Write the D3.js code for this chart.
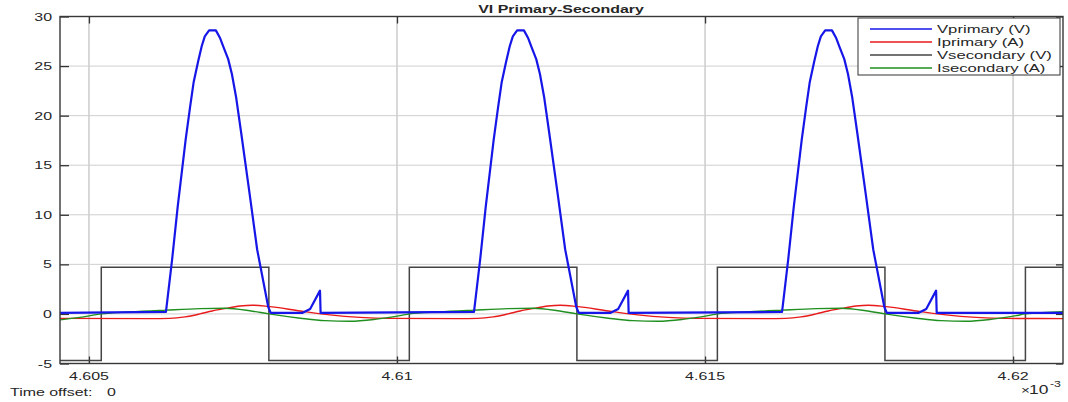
<!DOCTYPE html>
<html>
<head>
<meta charset="utf-8">
<script src="https://cdn.jsdelivr.net/npm/d3@7"></script>
<style>
  body { margin: 0; background: #fff; }
  text { font-family: "Liberation Sans", Arial, sans-serif; fill: #262626; }
</style>
</head>
<body>
<svg id="chart" width="1068" height="402"></svg>
<script>
// time values are in ms (axis shows x 10^-3 s)
var seriesNames = ["Vprimary (V)", "Iprimary (A)", "Vsecondary (V)", "Isecondary (A)"];
var seriesColors = ["#1616e8", "#e81a1a", "#444444", "#1f8f1f"];

var xTicks = [4.605, 4.61, 4.615, 4.62];
var xTickLabels = ["4.605", "4.61", "4.615", "4.62"];
var yTicks = [-5, 0, 5, 10, 15, 20, 25, 30];
var yTickLabels = ["-5", "0", "5", "10", "15", "20", "25", "30"];

var vPrimaryT = [4.60453,
  4.60625, 4.60635, 4.60644, 4.60657, 4.60664, 4.60670, 4.60677, 4.60683, 4.60688, 4.60695, 4.60706, 4.60713, 4.60719, 4.60726, 4.60732, 4.60739, 4.60747, 4.60761, 4.60773, 4.60791, 4.60795, 4.60846, 4.60859, 4.60875, 4.60876,
  4.61125, 4.61135, 4.61144, 4.61157, 4.61164, 4.61170, 4.61177, 4.61183, 4.61188, 4.61195, 4.61206, 4.61213, 4.61219, 4.61226, 4.61232, 4.61239, 4.61247, 4.61261, 4.61273, 4.61291, 4.61295, 4.61346, 4.61359, 4.61375, 4.61376,
  4.61625, 4.61635, 4.61644, 4.61657, 4.61664, 4.61670, 4.61677, 4.61683, 4.61688, 4.61695, 4.61706, 4.61713, 4.61719, 4.61726, 4.61732, 4.61739, 4.61747, 4.61761, 4.61773, 4.61791, 4.61795, 4.61846, 4.61859, 4.61875, 4.61876,
  4.62081];
var vPrimaryV = [0.1,
  0.2, 5.5, 10.8, 17.6, 20.8, 23.4, 25.4, 27.0, 28.0, 28.6, 28.6, 27.8, 26.8, 25.7, 24.2, 21.8, 18.3, 12.0, 6.5, 0.7, 0.1, 0.1, 0.5, 2.35, 0.1,
  0.2, 5.5, 10.8, 17.6, 20.8, 23.4, 25.4, 27.0, 28.0, 28.6, 28.6, 27.8, 26.8, 25.7, 24.2, 21.8, 18.3, 12.0, 6.5, 0.7, 0.1, 0.1, 0.5, 2.35, 0.1,
  0.2, 5.5, 10.8, 17.6, 20.8, 23.4, 25.4, 27.0, 28.0, 28.6, 28.6, 27.8, 26.8, 25.7, 24.2, 21.8, 18.3, 12.0, 6.5, 0.7, 0.1, 0.1, 0.5, 2.35, 0.1,
  0.1];

var iPrimaryT = [4.60453, 4.60599, 4.60631, 4.60656, 4.60680, 4.60700, 4.60721, 4.60745, 4.60765, 4.60791, 4.60843, 4.60891, 4.60940, 4.60989,
                 4.61099, 4.61131, 4.61156, 4.61180, 4.61200, 4.61221, 4.61245, 4.61265, 4.61291, 4.61343, 4.61391, 4.61440, 4.61489,
                 4.61599, 4.61631, 4.61656, 4.61680, 4.61700, 4.61721, 4.61745, 4.61765, 4.61791, 4.61843, 4.61891, 4.61940, 4.61989,
                 4.62081];
var iPrimaryV = [-0.45, -0.47, -0.45, -0.3, 0.0, 0.3, 0.55, 0.8, 0.88, 0.76, 0.3, -0.1, -0.35, -0.45,
                 -0.47, -0.45, -0.3, 0.0, 0.3, 0.55, 0.8, 0.88, 0.76, 0.3, -0.1, -0.35, -0.45,
                 -0.47, -0.45, -0.3, 0.0, 0.3, 0.55, 0.8, 0.88, 0.76, 0.3, -0.1, -0.35, -0.45,
                 -0.47];

var vSecondaryT = [4.60453, 4.60520, 4.60792, 4.61020, 4.61292, 4.61520, 4.61792, 4.62020, 4.62081];
var vSecondaryV = [-4.7, 4.7, -4.7, 4.7, -4.7, 4.7, -4.7, 4.7, 4.7];

var iSecondaryT = [4.60453, 4.60485, 4.60520, 4.60567, 4.60625, 4.60680, 4.60721, 4.60761, 4.60792, 4.60843, 4.60883, 4.60924, 4.60964, 4.61005,
                   4.61020, 4.61067, 4.61125, 4.61180, 4.61221, 4.61261, 4.61292, 4.61343, 4.61383, 4.61424, 4.61464, 4.61505,
                   4.61520, 4.61567, 4.61625, 4.61680, 4.61721, 4.61761, 4.61792, 4.61843, 4.61883, 4.61924, 4.61964, 4.62005,
                   4.62020, 4.62081];
var iSecondaryV = [-0.6, -0.35, 0.0, 0.2, 0.38, 0.53, 0.57, 0.32, 0.0, -0.43, -0.68, -0.74, -0.55, -0.17,
                   0.0, 0.2, 0.38, 0.53, 0.57, 0.32, 0.0, -0.43, -0.68, -0.74, -0.55, -0.17,
                   0.0, 0.2, 0.38, 0.53, 0.57, 0.32, 0.0, -0.43, -0.68, -0.74, -0.55, -0.17,
                   0.0, 0.22];

var SX = 1.45; // text in the reference is stretched horizontally

var svg = d3.select('#chart');
var mL = 60, mR = 1063, mT = 16.5, mB = 363.5;

var x = d3.scaleLinear().domain([4.60453, 4.62081]).range([mL, mR]);
var y = d3.scaleLinear().domain([-5, 30]).range([mB, mT]);

function stext(g, px, py, str, anchor, size, weight) {
  return g.append("text")
    .attr("transform", "translate(" + px + "," + py + ") scale(" + SX + ",1)")
    .attr("text-anchor", anchor)
    .style("font-size", size + "px")
    .style("font-weight", weight || "normal")
    .text(str);
}

// grid
var grid = svg.append("g");
grid.selectAll("line.gx").data(xTicks).enter().append("line")
  .attr("x1", function(d) { return x(d); }).attr("x2", function(d) { return x(d); })
  .attr("y1", mT).attr("y2", mB)
  .attr("stroke", "#cfcfcf").attr("stroke-width", 1.6);
grid.selectAll("line.gy").data(yTicks).enter().append("line")
  .attr("y1", function(d) { return y(d); }).attr("y2", function(d) { return y(d); })
  .attr("x1", mL).attr("x2", mR)
  .attr("stroke", "#cfcfcf").attr("stroke-width", 1);

// axes (ticks on all sides, pointing inward)
svg.append("g").attr("transform", "translate(" + mL + ",0)")
  .call(d3.axisLeft(y).tickValues(yTicks).tickSize(-9).tickFormat(""))
  .call(function(g) { g.select(".domain").remove(); });
svg.append("g").attr("transform", "translate(" + mR + ",0)")
  .call(d3.axisRight(y).tickValues(yTicks).tickSize(-7).tickFormat(""))
  .call(function(g) { g.select(".domain").remove(); });
svg.append("g").attr("transform", "translate(0," + mB + ")")
  .call(d3.axisBottom(x).tickValues(xTicks).tickSize(-7).tickFormat(""))
  .call(function(g) { g.select(".domain").remove(); });
svg.append("g").attr("transform", "translate(0," + mT + ")")
  .call(d3.axisTop(x).tickValues(xTicks).tickSize(-7).tickFormat(""))
  .call(function(g) { g.select(".domain").remove(); });
svg.selectAll(".tick line").attr("stroke", "#333").attr("stroke-width", 1.3);

// tick labels
yTicks.forEach(function(d, i) {
  stext(svg, 52, y(d) + 4, yTickLabels[i], "end", 11);
});
xTicks.forEach(function(d, i) {
  stext(svg, x(d), 379.5, xTickLabels[i], "middle", 11);
});

// series
var lineFn = d3.line().x(function(d) { return x(d[0]); }).y(function(d) { return y(d[1]); });
var smoothFn = d3.line().curve(d3.curveMonotoneX).x(function(d) { return x(d[0]); }).y(function(d) { return y(d[1]); });
var stepFn = d3.line().curve(d3.curveStepAfter).x(function(d) { return x(d[0]); }).y(function(d) { return y(d[1]); });

var plot = svg.append("g");
plot.append("path").datum(d3.zip(vSecondaryT, vSecondaryV))
  .attr("d", stepFn).attr("fill", "none").attr("stroke", seriesColors[2]).attr("stroke-width", 1.5);
plot.append("path").datum(d3.zip(iPrimaryT, iPrimaryV))
  .attr("d", smoothFn).attr("fill", "none").attr("stroke", seriesColors[1]).attr("stroke-width", 1.4);
plot.append("path").datum(d3.zip(iSecondaryT, iSecondaryV))
  .attr("d", smoothFn).attr("fill", "none").attr("stroke", seriesColors[3]).attr("stroke-width", 1.4);
plot.append("path").datum(d3.zip(vPrimaryT, vPrimaryV))
  .attr("d", lineFn).attr("fill", "none").attr("stroke", seriesColors[0]).attr("stroke-width", 2.2)
  .attr("stroke-linejoin", "round");

// frame
svg.append("rect").attr("x", mL).attr("y", mT)
  .attr("width", mR - mL).attr("height", mB - mT)
  .attr("fill", "none").attr("stroke", "#383838").attr("stroke-width", 1.4);

// title
stext(svg, 561, 13, "VI Primary-Secondary", "middle", 11, "bold");

// legend
var leg = svg.append("g");
leg.append("rect").attr("x", 858).attr("y", 18).attr("width", 202).attr("height", 57)
  .attr("fill", "#fff").attr("stroke", "#333").attr("stroke-width", 1);
seriesNames.forEach(function(name, i) {
  var ly = 29 + i * 13;
  leg.append("line").attr("x1", 870).attr("x2", 932).attr("y1", ly).attr("y2", ly)
    .attr("stroke", seriesColors[i]).attr("stroke-width", 1.6);
  stext(leg, 937, ly + 4, name, "start", 11.5);
});

// bottom annotations
stext(svg, 10, 396, "Time offset:", "start", 11);
stext(svg, 107, 396, "0", "start", 11);
stext(svg, 1021, 394, "\u00d7", "start", 10.5);
stext(svg, 1029, 394, "10", "start", 12);
stext(svg, 1050, 387, "-3", "start", 8.5);
</script>
</body>
</html>
